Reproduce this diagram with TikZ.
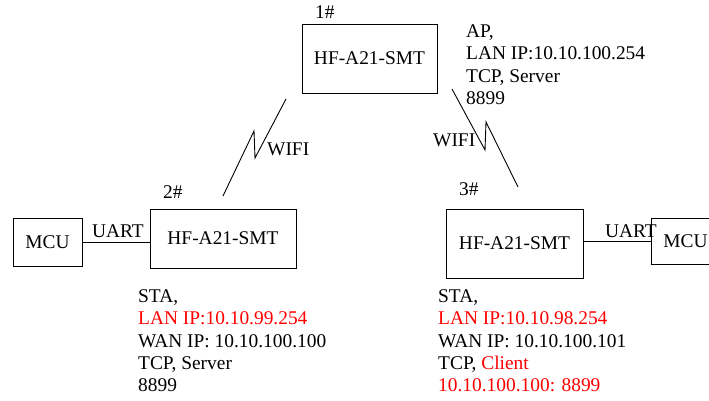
\documentclass[tikz,border=0pt]{standalone}
\usepackage{fontspec}
\setmainfont{Liberation Serif}
\newfontfamily\tnrfont{Liberation Serif}
\begin{document}
\begin{tikzpicture}[x=1pt,y=-1pt,
  every node/.style={font=\tnrfont\fontsize{19.4}{22}\selectfont},
  box/.style={draw,line width=0.9pt,inner sep=0pt,rectangle},
  txt/.style={anchor=base west,inner sep=0pt},
  red/.style={text={rgb,255:red,255;green,0;blue,0}},
  wire/.style={line width=0.9pt}]
\useasboundingbox (0,0) rectangle (709,400);
\clip (0,0) rectangle (709,400);
\fill[white] (0,0) rectangle (709,400);
% boxes
\node[box,minimum width=135pt,minimum height=69pt] (b1) at (369.5,58.5) {HF-A21-SMT};
\node[box,minimum width=146pt,minimum height=59pt] (b2) at (223,238.5) {HF-A21-SMT};
\node[box,minimum width=137pt,minimum height=69pt] (b3) at (514.5,243.5) {HF-A21-SMT};
\node[box,minimum width=69pt,minimum height=48pt] (m1) at (47.5,242) {MCU};
\node[box,minimum width=69pt,minimum height=46pt] (m2) at (685.5,241) {MCU};
% uart wires
\draw[wire] (m1.east) -- (m1.east -| b2.west);
\draw[wire] (m2.west -| b3.east) -- (m2.west);
\node[txt] (u1) at (92,237) {UART};
\node[txt] (u2) at (605,237) {UART};
% labels
\node[txt] (n1) at (315,18) {1\#};
\node[txt] (n2) at (163,198) {2\#};
\node[txt] (n3) at (459,195) {3\#};
% wifi links
\coordinate (w1a) at (223,196);
\coordinate (w1b) at (254,131);
\coordinate (w1c) at (255,158);
\coordinate (w1d) at (286,99);
\draw[wire,line join=miter] (w1a) -- (w1b) -- (w1c) -- (w1d);
\coordinate (w2a) at (452,89);
\coordinate (w2b) at (485,150);
\coordinate (w2c) at (486,122);
\coordinate (w2d) at (518,187);
\draw[wire,line join=miter] (w2a) -- (w2b) -- (w2c) -- (w2d);
\node[txt] (wf1) at (267,155) {WIFI};
\node[txt] (wf2) at (433,146) {WIFI};
% AP text
\node[txt] (a1) at (466,37) {AP,};
\node[txt] (a2) at (466,59.5) {LAN IP:10.10.100.254};
\node[txt] (a3) at (466,82) {TCP, Server};
\node[txt] (a4) at (466,104) {8899};
% left STA text
\node[txt] (l1) at (138,302) {STA,};
\node[txt,red] (l2) at (138,324.5) {LAN IP:10.10.99.254};
\node[txt] (l3) at (138,347) {WAN IP: 10.10.100.100};
\node[txt] (l4) at (138,369) {TCP, Server};
\node[txt] (l5) at (138,391) {8899};
% right STA text
\node[txt] (r1) at (438,302) {STA,};
\node[txt,red] (r2) at (438,324.5) {LAN IP:10.10.98.254};
\node[txt] (r3) at (438,347) {WAN IP: 10.10.100.101};
\node[txt] (r4) at (438,369) {TCP, \textcolor[RGB]{255,0,0}{Client}};
\node[txt,red] (r5) at (438,391) {10.10.100.100: 8899};
\end{tikzpicture}
\end{document}
